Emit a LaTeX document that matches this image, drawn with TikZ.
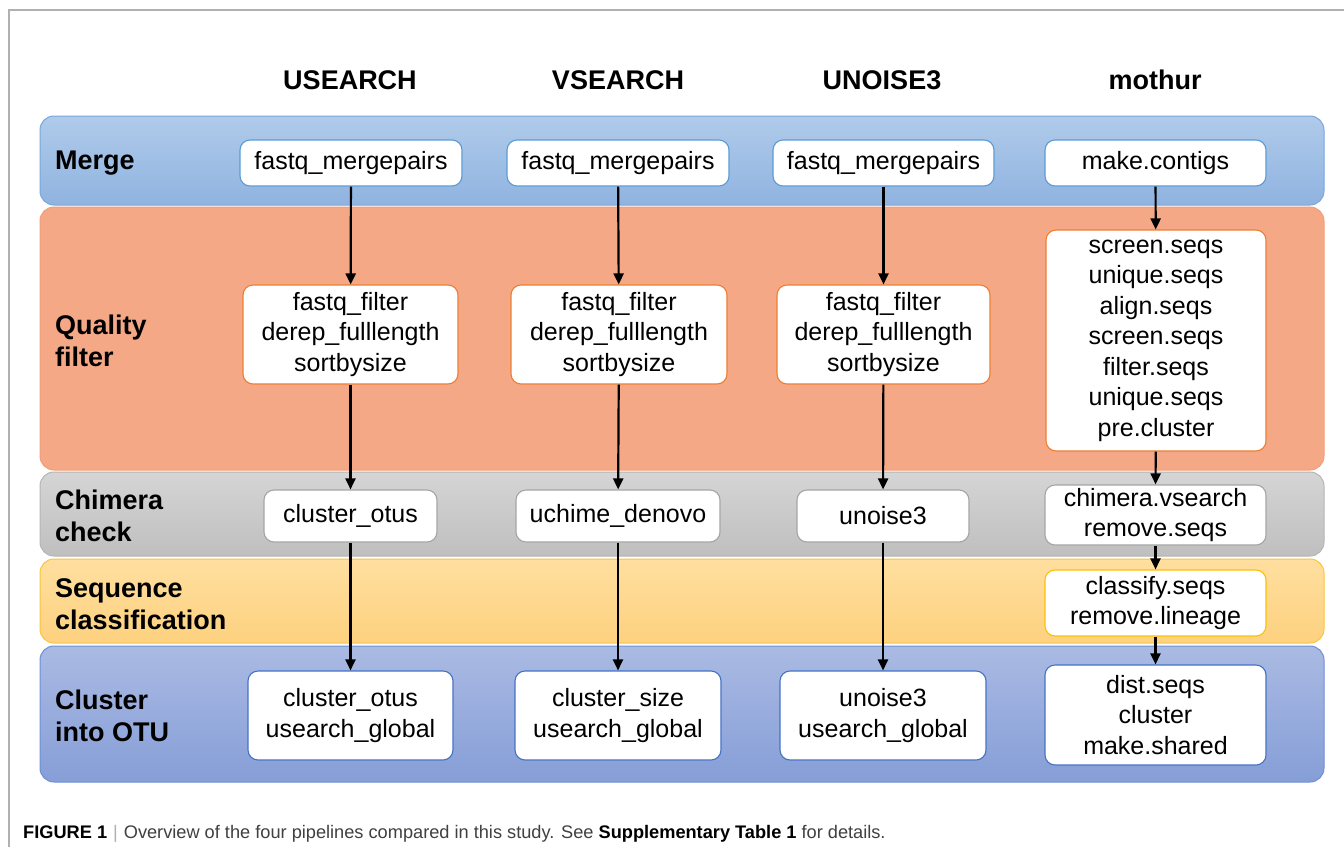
\documentclass[tikz,border=0pt]{standalone}
\usepackage{fontspec}
\setmainfont{Liberation Sans}
\usetikzlibrary{arrows.meta}
\definecolor{mergeTop}{HTML}{B0CBEA}
\definecolor{mergeBot}{HTML}{8FB3E0}
\definecolor{mergeLine}{HTML}{7AA6DC}
\definecolor{qfFill}{HTML}{F5A886}
\definecolor{qfLine}{HTML}{F19E7A}
\definecolor{chTop}{HTML}{D5D5D5}
\definecolor{chBot}{HTML}{BFBFBF}
\definecolor{chLine}{HTML}{B5B5B5}
\definecolor{sqTop}{HTML}{FFDF9F}
\definecolor{sqBot}{HTML}{FDD17F}
\definecolor{sqLine}{HTML}{F9C440}
\definecolor{clTop}{HTML}{AABAE3}
\definecolor{clBot}{HTML}{869ED7}
\definecolor{clLine}{HTML}{6F8FD5}
\definecolor{bxMerge}{HTML}{5B9BD5}
\definecolor{bxQF}{HTML}{ED7D31}
\definecolor{bxCh}{HTML}{A5A5A5}
\definecolor{bxSq}{HTML}{FFC000}
\definecolor{bxCl}{HTML}{4472C4}
\definecolor{capGrey}{HTML}{404040}
\definecolor{frameGrey}{HTML}{B0B0B0}
\tikzset{
  band/.style={rounded corners=14pt, line width=1pt},
  tool/.style={draw, fill=white, rounded corners=10pt, line width=1.1pt,
    font=\fontsize{25}{30.5}\selectfont, align=center, inner sep=0pt},
  hdr/.style={font=\fontsize{27}{32}\selectfont\bfseries},
  lbl/.style={font=\fontsize{27}{32.5}\selectfont\bfseries, align=left, anchor=west, inner sep=0pt},
  flow/.style={line width=2.2pt, -{Triangle[length=11pt,width=10pt]}}
}
\begin{document}
\begin{tikzpicture}[x=1pt,y=-1pt]
\useasboundingbox (0,0) rectangle (1344,847);
\fill[white] (0,0) rectangle (1344,847);
% frame
\draw[frameGrey, line width=1.2pt] (9,847) -- (9,10) -- (1344,10);
% headers
\node[hdr] (hU) at (350,80) {USEARCH};
\node[hdr] (hV) at (618,80) {VSEARCH};
\node[hdr] (hN) at (882,80) {UNOISE3};
\node[hdr] (hM) at (1155,80) {mothur};
% bands
\shade[band, top color=mergeTop, bottom color=mergeBot] (40,116) rectangle (1324,205);
\draw[band, mergeLine] (40,116) rectangle (1324,205);
\fill[band, qfFill] (40,207) rectangle (1324,470);
\draw[band, qfLine] (40,207) rectangle (1324,470);
\shade[band, top color=chTop, bottom color=chBot] (40,472) rectangle (1324,556);
\draw[band, chLine] (40,472) rectangle (1324,556);
\shade[band, top color=sqTop, bottom color=sqBot] (40,559) rectangle (1324,643);
\draw[band, sqLine] (40,559) rectangle (1324,643);
\shade[band, top color=clTop, bottom color=clBot] (40,646) rectangle (1324,782);
\draw[band, clLine] (40,646) rectangle (1324,782);
% band labels
\node[lbl] (lMerge) at (55,163) {Merge};
\node[lbl] (lQF) at (55,341) {Quality\\filter};
\node[lbl] (lCh) at (55,516) {Chimera\\check};
\node[lbl] (lSq) at (55,604) {Sequence\\classification};
\node[lbl] (lCl) at (55,716) {Cluster\\into OTU};
% column 1
\node[tool, draw=bxMerge, minimum width=222pt, minimum height=46pt] (m1) at (351,163) {fastq\_mergepairs};
\node[tool, draw=bxQF, minimum width=215pt, minimum height=99pt] (q1) at (350.5,334.5) {fastq\_filter\\derep\_fulllength\\sortbysize};
\node[tool, draw=bxCh, minimum width=173pt, minimum height=52pt] (c1) at (350.5,516) {cluster\_otus};
\node[tool, draw=bxCl, minimum width=205pt, minimum height=89pt] (o1) at (350.5,715.5) {cluster\_otus\\usearch\_global};
% column 2
\node[tool, draw=bxMerge, minimum width=222pt, minimum height=46pt] (m2) at (618,163) {fastq\_mergepairs};
\node[tool, draw=bxQF, minimum width=216pt, minimum height=99pt] (q2) at (619,334.5) {fastq\_filter\\derep\_fulllength\\sortbysize};
\node[tool, draw=bxCh, minimum width=204pt, minimum height=52pt] (c2) at (618,516) {uchime\_denovo};
\node[tool, draw=bxCl, minimum width=206pt, minimum height=89pt] (o2) at (618,715.5) {cluster\_size\\usearch\_global};
% column 3
\node[tool, draw=bxMerge, minimum width=221pt, minimum height=46pt] (m3) at (883.5,163) {fastq\_mergepairs};
\node[tool, draw=bxQF, minimum width=213pt, minimum height=99pt] (q3) at (883.5,334.5) {fastq\_filter\\derep\_fulllength\\sortbysize};
\node[tool, draw=bxCh, minimum width=172pt, minimum height=52pt] (c3) at (883,516) {unoise3};
\node[tool, draw=bxCl, minimum width=206pt, minimum height=89pt] (o3) at (883,715.5) {unoise3\\usearch\_global};
% column 4
\node[tool, draw=bxMerge, minimum width=221pt, minimum height=46pt] (m4) at (1155.5,163) {make.contigs};
\node[tool, draw=bxQF, minimum width=220pt, minimum height=221pt] (q4) at (1156,340.5) {screen.seqs\\unique.seqs\\align.seqs\\screen.seqs\\filter.seqs\\unique.seqs\\pre.cluster};
\node[tool, draw=bxCh, minimum width=221pt, minimum height=60pt] (c4) at (1155.5,515) {chimera.vsearch\\remove.seqs};
\node[tool, draw=bxSq, minimum width=221pt, minimum height=66pt] (s4) at (1155.5,603) {classify.seqs\\remove.lineage};
\node[tool, draw=bxCl, minimum width=221pt, minimum height=100pt] (o4) at (1155.5,715) {dist.seqs\\cluster\\make.shared};
% arrows
\foreach \c in {1,2,3} {
  \draw[flow] (m\c) -- (q\c);
  \draw[flow] (q\c) -- (c\c);
  \draw[flow] (c\c) -- (o\c);
}
\draw[flow] (m4) -- (q4);
\draw[flow] (q4) -- (c4);
\draw[flow] (c4) -- (s4);
\draw[flow] (s4) -- (o4);
% caption
\node[anchor=base west, inner sep=0pt, font=\fontsize{18.2}{22}\selectfont] (cap) at (23,838)
  {\textbf{FIGURE 1}\hspace{6pt}\textcolor{frameGrey}{|}\hspace{6pt}\textcolor{capGrey}{Overview of the four pipelines compared in this study. See}\ \textbf{Supplementary Table 1}\ \textcolor{capGrey}{for details.}};
\end{tikzpicture}
\end{document}
